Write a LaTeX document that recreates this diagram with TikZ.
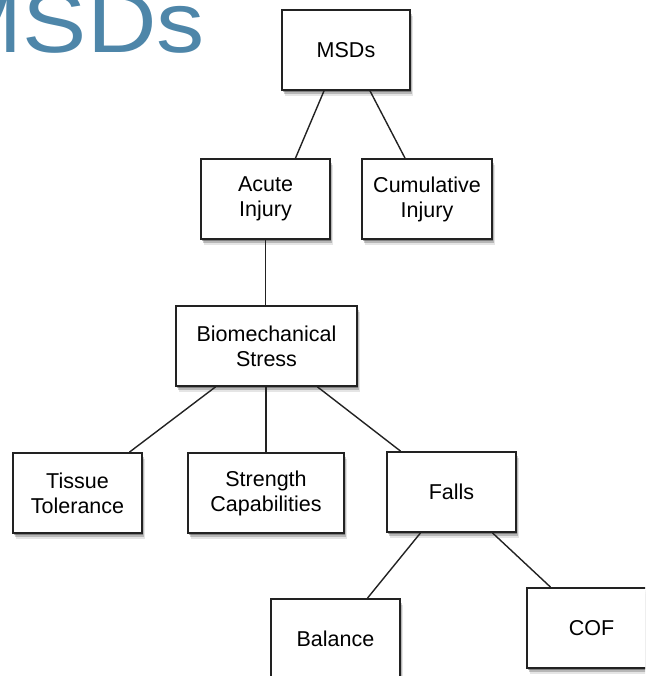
\documentclass[tikz,border=0pt]{standalone}
\usepackage{fontspec}
\setmainfont{Liberation Sans}
\usetikzlibrary{shadows}
\definecolor{titleblue}{HTML}{4E86A9}
\definecolor{boxline}{HTML}{222222}
\tikzset{
  box/.style={draw=boxline, line width=1.8pt, fill=white, minimum height=80pt,
    align=center, inner sep=0pt, font=\fontsize{21.5}{25}\selectfont,
    drop shadow={shadow xshift=1pt, shadow yshift=-2pt, opacity=0.30, fill=black},
    drop shadow={shadow xshift=2pt, shadow yshift=-4pt, opacity=0.20, fill=black},
    drop shadow={shadow xshift=3pt, shadow yshift=-6pt, opacity=0.10, fill=black}},
  link/.style={draw=boxline, line width=1.4pt}
}
\begin{document}
\begin{tikzpicture}[x=1pt,y=1pt]
\useasboundingbox (0,0) rectangle (645,-676);
\clip (0,0) rectangle (645,-676);
\node[anchor=base east, text=titleblue, font=\fontsize{86}{86}\selectfont, inner sep=0pt, xscale=1.12] (title) at (205,-53) {MSDs};
\node[box, minimum width=128pt] (msds) at (346,-50) {MSDs};
\node[box, minimum width=129pt] (acute) at (265.5,-199) {Acute\\Injury};
\node[box, minimum width=130pt] (cum) at (427,-199) {Cumulative\\Injury};
\node[box, minimum width=181pt] (bio) at (266.5,-346) {Biomechanical\\Stress};
\node[box, minimum width=129pt] (tissue) at (77.5,-493) {Tissue\\Tolerance};
\node[box, minimum width=156pt] (strength) at (266,-493) {Strength\\Capabilities};
\node[box, minimum width=129pt] (falls) at (451.5,-492) {Falls};
\node[box, minimum width=129pt] (balance) at (335.5,-639) {Balance};
\node[box, minimum width=129pt] (cof) at (591.5,-628) {COF};
\draw[link] ([xshift=-22pt]msds.south) -- ([xshift=30pt]acute.north);
\draw[link] ([xshift=24pt]msds.south) -- ([xshift=-22pt]cum.north);
\draw[link] (acute.south) -- (acute.south |- bio.north);
\draw[link] ([xshift=-51pt]bio.south) -- ([xshift=52pt]tissue.north);
\draw[link] (strength.north |- bio.south) -- (strength.north);
\draw[link] ([xshift=51pt]bio.south) -- ([xshift=-51pt]falls.north);
\draw[link] ([xshift=-31pt]falls.south) -- ([xshift=32pt]balance.north);
\draw[link] ([xshift=41pt]falls.south) -- ([xshift=-41pt]cof.north);
\end{tikzpicture}
\end{document}
